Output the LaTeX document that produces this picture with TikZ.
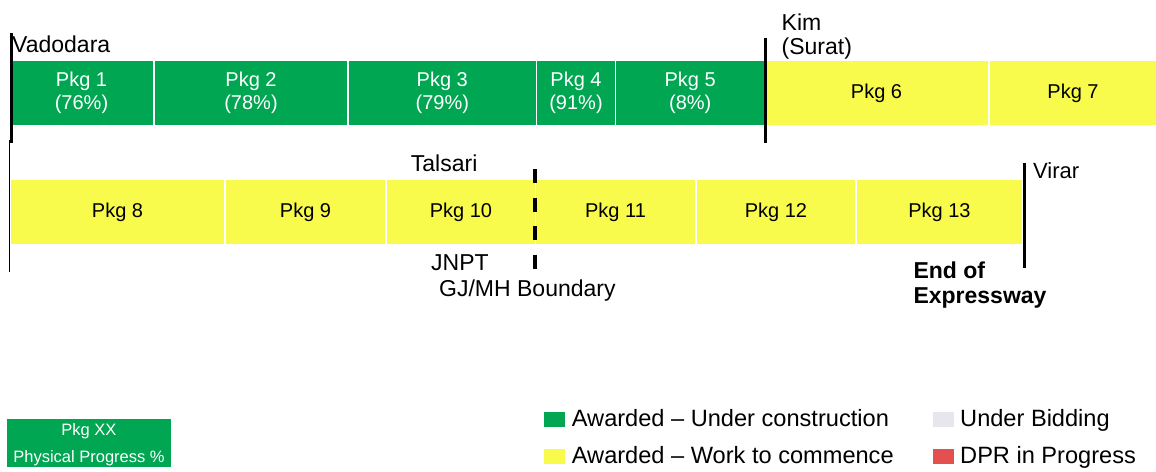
\documentclass[tikz,border=0pt]{standalone}
\usepackage{fontspec}
\setmainfont{Liberation Sans}
\definecolor{pgreen}{RGB}{0,166,81}
\definecolor{pyellow}{RGB}{248,250,76}
\definecolor{pgrey}{RGB}{230,230,236}
\definecolor{pred}{RGB}{226,80,80}
\tikzset{
  gbox/.style={fill=pgreen, draw=none, inner sep=0pt, minimum height=64pt, text=white, align=center,
     font=\fontsize{20}{23}\selectfont},
  ybox/.style={fill=pyellow, draw=none, inner sep=0pt, minimum height=64pt, text=black, align=center,
     font=\fontsize{20}{23}\selectfont},
  place/.style={inner sep=0pt, anchor=base west, align=left, font=\fontsize{23}{24.5}\selectfont},
  marker/.style={line width=3pt, black},
  legsq/.style={inner sep=0pt, minimum width=21pt, minimum height=15pt, draw=none},
  legtxt/.style={inner sep=0pt, anchor=base west, font=\fontsize{23.6}{26}\selectfont},
}
\begin{document}
\begin{tikzpicture}[x=1pt,y=-1pt]
\useasboundingbox (0,0) rectangle (1156,471);
% row 1
\node[gbox, minimum width=143] (p1) at (81.5,93) {Pkg 1\\(76\%)};
\node[gbox, minimum width=192] (p2) at (251,93) {Pkg 2\\(78\%)};
\node[gbox, minimum width=186.7] (p3) at (442.3,93) {Pkg 3\\(79\%)};
\node[gbox, minimum width=78] (p4) at (576,93) {Pkg 4\\(91\%)};
\node[gbox, minimum width=147.5] (p5) at (690.2,93) {Pkg 5\\(8\%)};
\node[ybox, minimum width=223] (p6) at (876.5,93) {Pkg 6};
\node[ybox, minimum width=166] (p7) at (1073,93) {Pkg 7};
% row 2
\node[ybox, minimum width=213] (p8) at (117.5,212) {Pkg 8};
\node[ybox, minimum width=159] (p9) at (305.5,212) {Pkg 9};
\node[ybox, minimum width=148] (p10) at (461,212) {Pkg 10};
\node[ybox, minimum width=159] (p11) at (615.5,212) {Pkg 11};
\node[ybox, minimum width=158] (p12) at (776,212) {Pkg 12};
\node[ybox, minimum width=165] (p13) at (939.5,212) {Pkg 13};
% markers
\coordinate (vt) at (11,33); \coordinate (vb) at (11,143);
\draw[marker] (vt) -- (vb);
\coordinate (vt2) at (9.5,140); \coordinate (vb2) at (9.5,272);
\draw[line width=1pt] (vt2) -- (vb2);
\coordinate (kt) at (765.7,38); \coordinate (kb) at (765.7,143);
\draw[marker] (kt) -- (kb);
\coordinate (rt) at (1024,163); \coordinate (rb) at (1024,268);
\draw[marker] (rt) -- (rb);
\coordinate (dt) at (535,169); \coordinate (db) at (535,270);
\draw[line width=4pt, dash pattern=on 14pt off 14.5pt] (dt) -- (db);
% place labels
\node[place] (vad) at (12,52) {Vadodara};
\node[place] (kim) at (781.5,54.5) {Kim\\(Surat)};
\node[place] (tal) at (410.7,171) {Talsari};
\node[place] (jnpt) at (431,270.7) {JNPT};
\node[place] (gjmh) at (439,296.7) {GJ/MH Boundary};
\node[place, font=\fontsize{22}{24}\selectfont] (vir) at (1033,178) {Virar};
\node[place, font=\fontsize{23}{25}\selectfont\bfseries] (end) at (913.3,303) {End of\\Expressway};
% legend
\node[fill=pgreen, inner sep=0pt, minimum width=163.4, minimum height=47.4] (lg) at (89,443) {};
\node[inner sep=0pt, anchor=base, text=white, font=\fontsize{16.5}{20}\selectfont] (lg1) at (89,435) {Pkg XX};
\node[inner sep=0pt, anchor=base, text=white, font=\fontsize{16.5}{20}\selectfont] (lg2) at (89,462.7) {Physical Progress \%};
\node[legsq, fill=pgreen] (s1) at (554.5,419.5) {};
\node[legtxt] (t1) at (571.7,426.7) {Awarded – Under construction};
\node[legsq, fill=pyellow] (s2) at (554.5,456.3) {};
\node[legtxt] (t2) at (571.7,463.5) {Awarded – Work to commence};
\node[legsq, fill=pgrey] (s3) at (943,419.5) {};
\node[legtxt] (t3) at (960,426.7) {Under Bidding};
\node[legsq, fill=pred] (s4) at (943,456.3) {};
\node[legtxt] (t4) at (960,463.5) {DPR in Progress};
\end{tikzpicture}
\end{document}
